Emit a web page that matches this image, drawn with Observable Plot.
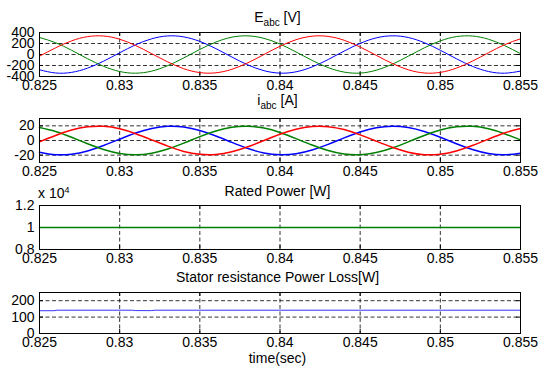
<!DOCTYPE html>
<html><head><meta charset="utf-8">
<script src="https://cdn.jsdelivr.net/npm/d3@7"></script>
<script src="https://cdn.jsdelivr.net/npm/@observablehq/plot@0.6"></script>
<style>
body{margin:0;background:#fff;}
#wrap{position:relative;width:539px;height:370px;background:#fff;font-family:"Liberation Sans",Arial,sans-serif;color:#000;overflow:hidden}
.ttl{position:absolute;font-size:14px;line-height:14px;white-space:nowrap;transform:translateX(-50%);}
.ttl sub{font-size:10px;vertical-align:-4px;line-height:0}
.exp{position:absolute;font-size:14px;line-height:14px;white-space:nowrap;}
.exp sup{font-size:9px;vertical-align:5px;line-height:0}
</style></head><body><div id="wrap"></div>
<script>
// ---- data ----
const time = [0.825,0.826,0.827,0.828,0.829,0.830,0.831,0.832,0.833,0.834,0.835,0.836,0.837,0.838,0.839,0.840,0.841,0.842,0.843,0.844,0.845,0.846,0.847,0.848,0.849,0.850,0.851,0.852,0.853,0.854,0.855];
// E_abc [V]
const eRed   = [-31,121,248,325,336,278,163,15,-135,-259,-329,-333,-269,-150,0,150,269,333,329,259,135,-15,-163,-278,-336,-325,-248,-121,31,177,286];
const eBlue  = [-278,-336,-325,-248,-121,31,177,286,338,320,238,107,-46,-190,-294,-339,-315,-226,-92,62,202,302,340,309,215,77,-77,-215,-309,-340,-302];
const eGreen = [309,215,77,-77,-215,-309,-340,-302,-202,-62,92,226,315,339,294,190,46,-107,-238,-320,-338,-286,-177,-31,121,248,325,336,278,163,15];
// i_abc [A]
const iRed   = [-1.8,6.9,14.2,18.6,19.3,15.9,9.3,0.9,-7.7,-14.9,-18.9,-19.1,-15.4,-8.6,0,8.6,15.4,19.1,18.9,14.9,7.7,-0.9,-9.3,-15.9,-19.3,-18.6,-14.2,-6.9,1.8,10.2,16.4];
const iBlue  = [-15.9,-19.3,-18.6,-14.2,-6.9,1.8,10.2,16.4,19.4,18.4,13.6,6.1,-2.6,-10.9,-16.9,-19.4,-18.1,-13.0,-5.3,3.6,11.6,17.3,19.5,17.7,12.3,4.4,-4.4,-12.3,-17.7,-19.5,-17.3];
const iGreen = [17.7,12.3,4.4,-4.4,-12.3,-17.7,-19.5,-17.3,-11.6,-3.6,5.3,13.0,18.1,19.4,16.9,10.9,2.6,-6.1,-13.6,-18.4,-19.4,-16.4,-10.2,-1.8,6.9,14.2,18.6,19.3,15.9,9.3,0.9];
// Rated power [W]
const powerTime = [0.825,0.830,0.835,0.840,0.845,0.850,0.855];
const power     = [10000,10000,10000,10000,10000,10000,10000];
// Stator resistance power loss [W]
const lossTime = [0.825,0.8259,0.8261,0.8308,0.8310,0.8320,0.8322,0.855];
const loss     = [139,139,142,142,139.5,139.5,142,142];
// axes
const xTicks = [0.825,0.83,0.835,0.84,0.845,0.85,0.855];
const xGrid  = [0.83,0.835,0.84,0.845,0.85];
const eTicks = [-400,-200,0,200,400];
const iTicks = [-20,0,20];
const pTicks = [8000,10000,12000];
const lTicks = [0,100,200];

// ---- drawing ----
const wrap = document.getElementById("wrap");
const rows = (ts, vs) => ts.map((t, i) => ({t, v: vs[i]}));
const FONT = '"Liberation Sans", Arial, sans-serif';

function panel({top, h, yDomain, yTicks, yGrid, yFormat, lines}) {
  const mt = 10, mb = 24, W = 539, ml = 39, mr = 19, pw = W - ml - mr;
  const dash = "4,2.5";
  const svg = Plot.plot({
    width: W, height: mt + h + mb,
    marginLeft: ml, marginRight: mr, marginTop: mt, marginBottom: mb,
    style: {background: "transparent", fontFamily: FONT, fontSize: "14px", color: "#000", overflow: "visible"},
    x: {domain: [0.825, 0.855], ticks: xTicks, tickFormat: d => String(d), tickSize: 0, tickPadding: 4, label: null},
    y: {domain: yDomain, ticks: yTicks, tickFormat: yFormat, tickSize: 0, tickPadding: 5, label: null},
    marks: [
      Plot.ruleX(xGrid, {stroke: "#000", strokeWidth: 0.8, strokeDasharray: dash}),
      Plot.ruleY(yGrid, {stroke: "#000", strokeWidth: 0.8, strokeDasharray: dash}),
      Plot.ruleX(xGrid, {stroke: "#000", insetTop: h - 4}),
      Plot.ruleX(xGrid, {stroke: "#000", insetBottom: h - 4}),
      Plot.ruleY(yTicks, {stroke: "#000", insetRight: pw - 4}),
      Plot.ruleY(yTicks, {stroke: "#000", insetLeft: pw - 4}),
      ...lines,
      Plot.frame({stroke: "#000", strokeWidth: 1})
    ]
  });
  svg.style.position = "absolute";
  svg.style.left = "0px";
  svg.style.top = (top - mt) + "px";
  wrap.appendChild(svg);
}

function addText(cls, html, left, baseline) {
  const d = document.createElement("div");
  d.className = cls;
  d.innerHTML = html;
  d.style.left = left + "px";
  d.style.top = (baseline - 11.85) + "px";
  wrap.appendChild(d);
}

const BLUE = "#0000ff", GREEN = "#008000", RED = "#ff0000";

panel({top: 32, h: 44, yDomain: [-400, 400], yTicks: eTicks, yGrid: [-200, 0, 200], yFormat: d => String(d),
  lines: [
    Plot.line(rows(time, eBlue), {x: "t", y: "v", stroke: BLUE, strokeWidth: 1, curve: "natural"}),
    Plot.line(rows(time, eGreen), {x: "t", y: "v", stroke: GREEN, strokeWidth: 1, curve: "natural"}),
    Plot.line(rows(time, eRed), {x: "t", y: "v", stroke: RED, strokeWidth: 1, curve: "natural"})
  ]});

panel({top: 118, h: 44, yDomain: [-30, 30], yTicks: iTicks, yGrid: [-20, 0, 20], yFormat: d => String(d),
  lines: [
    Plot.line(rows(time, iBlue), {x: "t", y: "v", stroke: BLUE, strokeWidth: 1.5, curve: "natural"}),
    Plot.line(rows(time, iGreen), {x: "t", y: "v", stroke: GREEN, strokeWidth: 1.5, curve: "natural"}),
    Plot.line(rows(time, iRed), {x: "t", y: "v", stroke: RED, strokeWidth: 1.5, curve: "natural"})
  ]});

panel({top: 205, h: 44, yDomain: [8000, 12000], yTicks: pTicks, yGrid: [10000], yFormat: d => String(d / 1e4),
  lines: [
    Plot.line(rows(powerTime, power), {x: "t", y: "v", stroke: GREEN, strokeWidth: 1.3})
  ]});

panel({top: 292, h: 41, yDomain: [0, 250], yTicks: lTicks, yGrid: [100, 200], yFormat: d => String(d),
  lines: [
    Plot.line(rows(lossTime, loss), {x: "t", y: "v", stroke: "#3535ff", strokeWidth: 1})
  ]});

addText("ttl", "E<sub>abc</sub> [V]", 277.5, 21.5);
addText("ttl", "i<sub>abc</sub> [A]", 277.5, 104.5);
addText("ttl", "Rated Power [W]", 277.5, 196);
addText("exp", "x 10<sup>4</sup>", 38, 198);
addText("ttl", "Stator resistance Power Loss[W]", 277.5, 281.5);
addText("ttl", "time(sec)", 277.5, 363);
</script>
</body></html>
